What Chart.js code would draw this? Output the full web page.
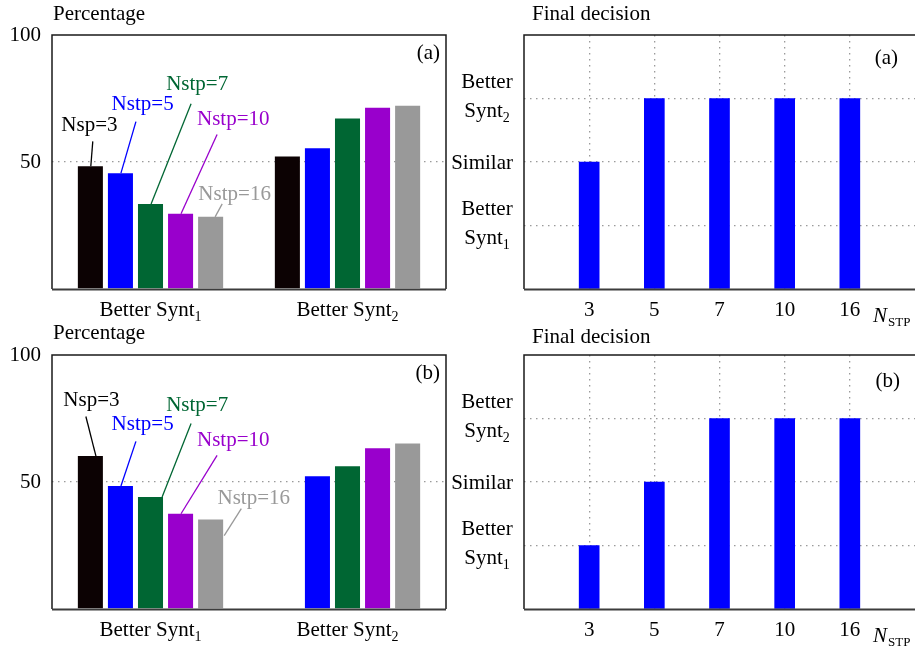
<!DOCTYPE html>
<html>
<head>
<meta charset="utf-8">
<script src="https://cdn.jsdelivr.net/npm/chart.js@4.4.1/dist/chart.umd.min.js"></script>
<style>
  html, body { margin: 0; padding: 0; background: #fff; }
  #wrap { position: relative; width: 915px; height: 651px; overflow: hidden; }
  canvas { position: absolute; }
</style>
</head>
<body>
<div id="wrap">
  <canvas id="pctA" width="460" height="336" style="left:0px;top:0px"></canvas>
  <canvas id="decA" width="475" height="336" style="left:440px;top:0px"></canvas>
  <canvas id="pctB" width="460" height="331" style="left:0px;top:320px"></canvas>
  <canvas id="decB" width="475" height="331" style="left:440px;top:320px"></canvas>
</div>
<script>
// categories
const groupLabels = [["Better Synt", "1"], ["Better Synt", "2"]];
const seriesNames = ["Nsp=3", "Nstp=5", "Nstp=7", "Nstp=10", "Nstp=16"];
const nstpLabels = ["3", "5", "7", "10", "16"];
const decisionLevels = [["Better", "Synt", "1"], ["Similar"], ["Better", "Synt", "2"]];

// percentage per series, [Better Synt1, Better Synt2]
const percentA = [[48.3, 52.2], [45.6, 55.4], [33.5, 67.1], [29.6, 71.4], [28.4, 72.1]];
const percentB = [[60.2, null], [48.4, 52.3], [44.1, 56.2], [37.5, 63.3], [35.2, 65.2]];

// final decision per N_STP (1 = Better Synt1, 2 = Similar, 3 = Better Synt2)
const decisionA = [2, 3, 3, 3, 3];
const decisionB = [1, 2, 3, 3, 3];

const seriesColors = ["#0c0203", "#0000ff", "#006633", "#9900cc", "#999999"];

// callout labels, in data units (category offset, percent)
const notesA = [
  { at: [-0.31, 64.3], from: [-0.293, 58.1], to: [-0.303, 48.3] },
  { at: [-0.04, 72.5], from: [-0.074, 65.9], to: [-0.150, 45.6] },
  { at: [0.237, 80.4], from: [0.206, 72.9], to: [0.003, 33.5] },
  { at: [0.42, 66.7], from: [0.338, 60.8], to: [0.155, 29.6] },
  { at: [0.427, 37.4], from: [0.364, 33.5], to: [0.328, 28.4] },
];
const notesB = [
  { at: [-0.30, 82.0], from: [-0.328, 75.8], to: [-0.277, 60.2] },
  { at: [-0.04, 72.7], from: [-0.074, 66.0], to: [-0.150, 48.4] },
  { at: [0.237, 80.1], from: [0.206, 73.0], to: [0.059, 44.1] },
  { at: [0.42, 66.4], from: [0.338, 60.5], to: [0.155, 37.5] },
  { at: [0.524, 43.4], from: [0.461, 39.5], to: [0.374, 28.9] },
];

const FAMILY = '"Liberation Serif", "Times New Roman", serif';
const FONT = "21px " + FAMILY;
const SUBFONT = "14px " + FAMILY;
const DOTS = "rgba(120, 120, 120, 0.75)";

function subText(ctx, base, sub, x, y, align) {
  ctx.font = FONT;
  const w1 = ctx.measureText(base).width;
  ctx.font = SUBFONT;
  const w2 = sub ? ctx.measureText(sub).width : 0;
  let x0 = x;
  if (align === "center") x0 = x - (w1 + w2) / 2;
  if (align === "right") x0 = x - w1 - w2;
  ctx.textAlign = "left";
  ctx.textBaseline = "alphabetic";
  ctx.font = FONT;
  ctx.fillText(base, x0, y);
  if (sub) {
    ctx.font = SUBFONT;
    ctx.fillText(sub, x0 + w1, y + 5);
  }
}

const decorPlugin = {
  id: "decor",
  afterDraw(chart, args, o) {
    const ctx = chart.ctx;
    const a = chart.chartArea;
    const xs = chart.scales.x;
    const ys = chart.scales.y;
    ctx.save();

    // callouts
    (o.notes || []).forEach((n, i) => {
      const color = i === 0 ? "#000" : seriesColors[i];
      ctx.strokeStyle = color;
      ctx.lineWidth = 1.3;
      ctx.beginPath();
      ctx.moveTo(xs.getPixelForValue(n.from[0]), ys.getPixelForValue(n.from[1]));
      ctx.lineTo(xs.getPixelForValue(n.to[0]), ys.getPixelForValue(n.to[1]));
      ctx.stroke();
      ctx.fillStyle = color;
      ctx.font = FONT;
      ctx.textAlign = "center";
      ctx.textBaseline = "middle";
      ctx.fillText(seriesNames[i], xs.getPixelForValue(n.at[0]), ys.getPixelForValue(n.at[1]));
    });

    // frame
    ctx.strokeStyle = "#1a1a1a";
    ctx.lineWidth = 1.5;
    ctx.beginPath();
    ctx.moveTo(a.left, a.bottom);
    ctx.lineTo(a.left, a.top);
    ctx.lineTo(a.right, a.top);
    if (o.closed) ctx.lineTo(a.right, a.bottom);
    ctx.stroke();
    ctx.strokeStyle = "#3c3c3c";
    ctx.lineWidth = 2;
    ctx.beginPath();
    ctx.moveTo(a.left, a.bottom + 0.5);
    ctx.lineTo(a.right, a.bottom + 0.5);
    ctx.stroke();

    ctx.fillStyle = "#000";
    ctx.font = FONT;
    ctx.textAlign = "left";
    ctx.textBaseline = "alphabetic";
    ctx.fillText(o.title, a.left + o.titleDx, o.titleY);

    ctx.textAlign = "right";
    ctx.textBaseline = "middle";
    ctx.fillText(o.tag, a.right - o.tagDx, a.top + o.tagDy);

    if (o.groups) {
      groupLabels.forEach((g, i) => {
        subText(ctx, g[0], g[1], xs.getPixelForValue(i), a.bottom + 27, "center");
      });
    }

    if (o.levels) {
      decisionLevels.forEach((lv, i) => {
        const y = ys.getPixelForValue(i + 1);
        if (lv.length === 1) {
          subText(ctx, lv[0], "", a.left - 11, y + 7, "right");
        } else {
          subText(ctx, lv[0], "", a.left - 37, y - 11, "center");
          subText(ctx, lv[1], lv[2], a.left - 37, y + 18, "center");
        }
      });
      // N_STP axis name
      ctx.font = "italic 21px " + FAMILY;
      ctx.textAlign = "left";
      ctx.textBaseline = "alphabetic";
      const nx = a.right - 42;
      const ny = a.bottom + 33;
      ctx.fillText("N", nx, ny);
      const wN = ctx.measureText("N").width;
      ctx.font = "13px " + FAMILY;
      ctx.fillText("STP", nx + wN + 1, ny + 4);
    }
    ctx.restore();
  },
};

function percentChart(id, values, notes, tag, height, titleY) {
  new Chart(document.getElementById(id), {
    type: "bar",
    data: {
      labels: groupLabels.map((g) => g[0] + g[1]),
      datasets: seriesNames.map((name, i) => ({
        label: name,
        data: values[i],
        backgroundColor: seriesColors[i],
        borderWidth: 0,
        categoryPercentage: 0.763,
        barPercentage: 0.833,
      })),
    },
    options: {
      responsive: false,
      animation: false,
      devicePixelRatio: 1,
      layout: { padding: { left: 0, top: 35, right: 14, bottom: 0 } },
      plugins: {
        legend: { display: false },
        tooltip: { enabled: false },
        decor: { notes, title: "Percentage", titleDx: 1, titleY, tag, tagDx: 6, tagDy: 18, groups: true, closed: true },
      },
      scales: {
        x: {
          ticks: { display: false },
          grid: { display: false },
          border: { display: false },
          afterFit: (s) => { s.height = height - 289; s.paddingLeft = 0; s.paddingRight = 0; },
        },
        y: {
          min: 0,
          max: 100,
          ticks: {
            stepSize: 50,
            padding: 11,
            color: "#000",
            font: { family: "Liberation Serif", size: 21 },
            callback: (v) => (v === 0 ? "" : v),
          },
          grid: {
            drawTicks: false,
            color: (c) => (c.tick && c.tick.value === 50 ? DOTS : "transparent"),
            lineWidth: 1.3,
          },
          border: { display: false, dash: [1.5, 4.5] },
          afterFit: (s) => { s.width = 52; },
        },
      },
    },
    plugins: [decorPlugin],
  });
}

function decisionChart(id, levels, tag, height, titleY, tagDy, tagDx) {
  new Chart(document.getElementById(id), {
    type: "bar",
    data: {
      datasets: [{
        label: "Final decision",
        data: levels.map((lv, i) => ({ x: i + 1, y: lv })),
        backgroundColor: "#0000ff",
        borderWidth: 0,
        barThickness: 20,
      }],
    },
    options: {
      responsive: false,
      animation: false,
      devicePixelRatio: 1,
      layout: { padding: { left: 0, top: 35, right: 0, bottom: 0 } },
      plugins: {
        legend: { display: false },
        tooltip: { enabled: false },
        decor: { title: "Final decision", titleDx: 8, titleY, tag, tagDx, tagDy, levels: true, closed: false },
      },
      scales: {
        x: {
          type: "linear",
          min: 0,
          max: 6,
          offset: false,
          z: 1,
          ticks: {
            stepSize: 1,
            padding: 9,
            color: "#000",
            font: { family: "Liberation Serif", size: 21 },
            callback: (v) => nstpLabels[v - 1] || "",
          },
          grid: {
            offset: false,
            drawTicks: false,
            color: (c) => (c.tick && c.tick.value > 0 && c.tick.value < 6 ? DOTS : "transparent"),
            lineWidth: 1.3,
          },
          border: { display: false, dash: [1.5, 4.5] },
          afterFit: (s) => { s.height = height - 289; s.paddingLeft = 0; s.paddingRight = 0; },
        },
        y: {
          min: 0,
          max: 4,
          z: 1,
          ticks: { display: false, stepSize: 1 },
          grid: {
            drawTicks: false,
            color: (c) => (c.tick && c.tick.value > 0 && c.tick.value < 4 ? DOTS : "transparent"),
            lineWidth: 1.3,
          },
          border: { display: false, dash: [1.5, 4.5] },
          afterFit: (s) => { s.width = 84; },
        },
      },
    },
    plugins: [decorPlugin],
  });
}

percentChart("pctA", percentA, notesA, "(a)", 336, 20);
percentChart("pctB", percentB, notesB, "(b)", 331, 19);
decisionChart("decA", decisionA, "(a)", 336, 20, 23, 17);
decisionChart("decB", decisionB, "(b)", 331, 23, 26, 15);
</script>
</body>
</html>
